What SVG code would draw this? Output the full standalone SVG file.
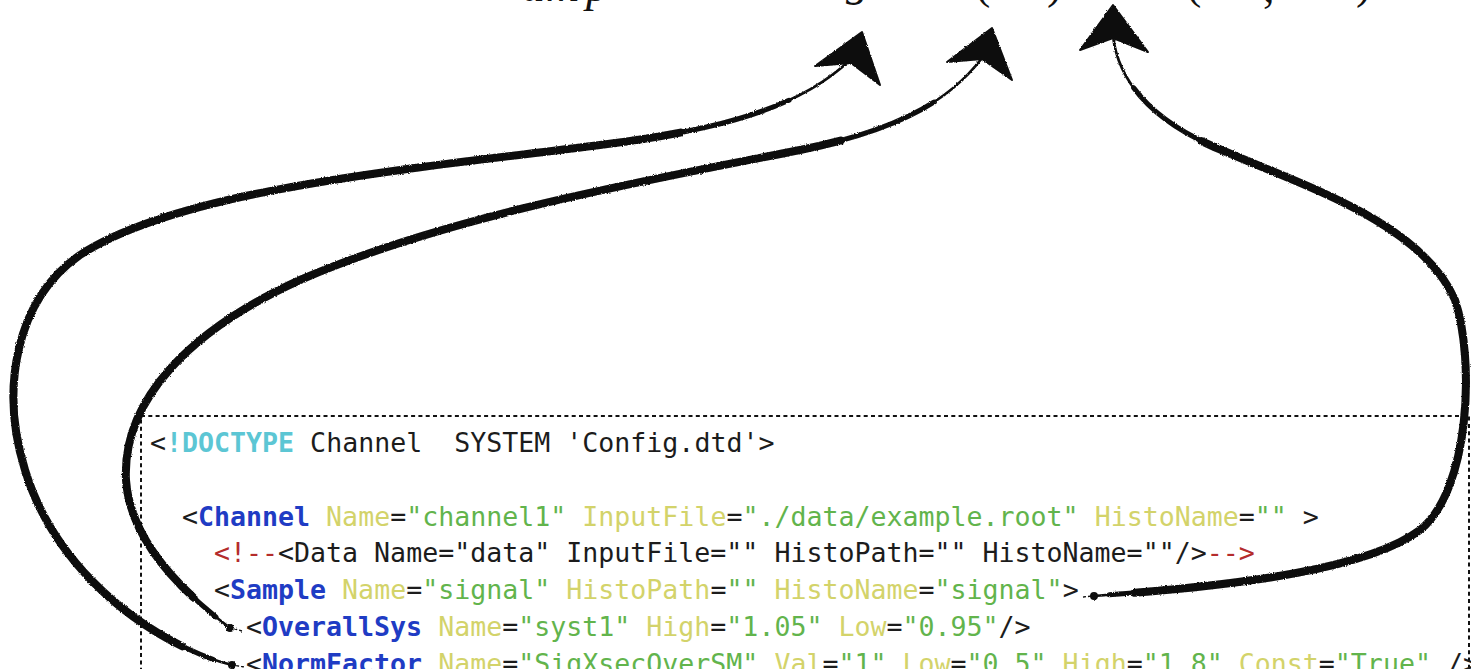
<svg xmlns="http://www.w3.org/2000/svg" width="1471" height="669" viewBox="0 0 1471 669">
  <style>
    .code { font-family: "DejaVu Sans Mono", "Liberation Mono", monospace; font-size: 26.6px; white-space: pre; }
    .k { fill: #1c1c1c; }
    .d { fill: #5cc6d4; font-weight: bold; }
    .e { fill: #1f3cc4; font-weight: bold; }
    .a { fill: #d3d36a; }
    .v { fill: #62b44c; }
    .c { fill: #b42c2c; }
    .math { font-family: "Liberation Serif", "DejaVu Serif", serif; fill: #111; }
    .box { fill: none; stroke: #111; stroke-width: 2; stroke-dasharray: 4 3.3; }
    .brush { fill: none; stroke: #0a0a0a; stroke-linecap: round; stroke-linejoin: round; }
    .w1 { stroke-width: 2.6; }
    .w2 { stroke-width: 5; stroke-dasharray: 0 1.5 93 200; }
    .w3 { stroke-width: 8; stroke-dasharray: 0 4 82 200; }
    .tail { fill: none; stroke: #0a0a0a; stroke-width: 1.3; stroke-dasharray: 3 2; }
    .head { fill: #0a0a0a; stroke: #0a0a0a; stroke-width: 2; stroke-linejoin: round; }
  </style>
  <defs>
    <filter id="rough" x="-5%" y="-5%" width="110%" height="110%">
      <feTurbulence type="fractalNoise" baseFrequency="0.9" numOctaves="2" seed="3" result="n"/>
      <feDisplacementMap in="SourceGraphic" in2="n" scale="2.5" xChannelSelector="R" yChannelSelector="G"/>
    </filter>
  </defs>
  <rect width="1471" height="669" fill="#ffffff"/>

  <!-- formula line, mostly above the top edge -->
  <g id="formula" class="math">
    <text x="522" y="1" font-size="46" font-style="italic">a</text>
    <text x="546" y="1" font-size="46" font-style="italic">m</text>
    <text x="586" y="1" font-size="46" font-style="italic">p</text>
    <text x="846" y="-5" font-size="46" font-style="italic">g</text>
    <text x="975" y="-2" font-size="46">(</text>
    <text x="1047" y="-2" font-size="46">)</text>
    <text x="1186" y="-2" font-size="46">(</text>
    <text x="1263" y="2" font-size="46">,</text>
    <text x="1356" y="-2" font-size="46">)</text>
  </g>

  <!-- configuration listing -->
  <g id="config">
    <rect class="box" x="141" y="416" width="1328" height="300"/>
    <text class="code" x="150" y="452"><tspan class="k">&lt;</tspan><tspan class="d">!DOCTYPE</tspan><tspan class="k"> Channel  SYSTEM 'Config.dtd'&gt;</tspan></text>
    <text class="code" x="182" y="526"><tspan class="k">&lt;</tspan><tspan class="e">Channel</tspan><tspan class="a"> Name</tspan><tspan class="k">=</tspan><tspan class="v">"channel1"</tspan><tspan class="a"> InputFile</tspan><tspan class="k">=</tspan><tspan class="v">"./data/example.root"</tspan><tspan class="a"> HistoName</tspan><tspan class="k">=</tspan><tspan class="v">""</tspan><tspan class="k"> &gt;</tspan></text>
    <text class="code" x="214" y="562"><tspan class="c">&lt;!--</tspan><tspan class="k">&lt;Data Name="data" InputFile="" HistoPath="" HistoName=""/&gt;</tspan><tspan class="c">--&gt;</tspan></text>
    <text class="code" x="214" y="599"><tspan class="k">&lt;</tspan><tspan class="e">Sample</tspan><tspan class="a"> Name</tspan><tspan class="k">=</tspan><tspan class="v">"signal"</tspan><tspan class="a"> HistoPath</tspan><tspan class="k">=</tspan><tspan class="v">""</tspan><tspan class="a"> HistoName</tspan><tspan class="k">=</tspan><tspan class="v">"signal"</tspan><tspan class="k">&gt;</tspan></text>
    <text class="code" x="246" y="636"><tspan class="k">&lt;</tspan><tspan class="e">OverallSys</tspan><tspan class="a"> Name</tspan><tspan class="k">=</tspan><tspan class="v">"syst1"</tspan><tspan class="a"> High</tspan><tspan class="k">=</tspan><tspan class="v">"1.05"</tspan><tspan class="a"> Low</tspan><tspan class="k">=</tspan><tspan class="v">"0.95"</tspan><tspan class="k">/&gt;</tspan></text>
    <text class="code" x="246" y="673"><tspan class="k">&lt;</tspan><tspan class="e">NormFactor</tspan><tspan class="a"> Name</tspan><tspan class="k">=</tspan><tspan class="v">"SigXsecOverSM"</tspan><tspan class="a"> Val</tspan><tspan class="k">=</tspan><tspan class="v">"1"</tspan><tspan class="a"> Low</tspan><tspan class="k">=</tspan><tspan class="v">"0.5"</tspan><tspan class="a"> High</tspan><tspan class="k">=</tspan><tspan class="v">"1.8"</tspan><tspan class="a"> Const</tspan><tspan class="k">=</tspan><tspan class="v">"True"</tspan><tspan class="k"> /&gt;</tspan></text>
  </g>

  <!-- brush-stroke connectors from the listing up to the formula -->
  <g id="connectors" filter="url(#rough)">
    <g id="link-normfactor">
      <path class="brush w1" pathLength="100" d="M232,665 C170,650 60,585 25,470 C0,390 15,300 80,255 C180,190 400,170 600,145 C720,130 800,108 850,60"/>
      <path class="brush w2" pathLength="100" d="M232,665 C170,650 60,585 25,470 C0,390 15,300 80,255 C180,190 400,170 600,145 C720,130 800,108 850,60"/>
      <path class="brush w3" pathLength="100" d="M232,665 C170,650 60,585 25,470 C0,390 15,300 80,255 C180,190 400,170 600,145 C720,130 800,108 850,60"/>
      <path class="tail" d="M244,667 L233,665"/>
      <path class="head" d="M862,32 L880,85 L851,63 L815,66 Z"/>
    </g>
    <g id="link-overallsys">
      <path class="brush w1" pathLength="100" d="M230,628 C180,590 130,540 126,480 C122,400 190,330 300,280 C450,215 650,180 800,150 C900,130 950,100 982,58"/>
      <path class="brush w2" pathLength="100" d="M230,628 C180,590 130,540 126,480 C122,400 190,330 300,280 C450,215 650,180 800,150 C900,130 950,100 982,58"/>
      <path class="brush w3" pathLength="100" d="M230,628 C180,590 130,540 126,480 C122,400 190,330 300,280 C450,215 650,180 800,150 C900,130 950,100 982,58"/>
      <path class="tail" d="M242,631 L231,628"/>
      <path class="head" d="M992,28 L1012,80 L982,59 L947,62 Z"/>
    </g>
    <g id="link-sample">
      <path class="brush w1" pathLength="100" d="M1094,596 C1200,588 1360,575 1420,530 C1470,490 1475,360 1455,300 C1420,220 1300,185 1210,145 C1150,118 1118,80 1113,36"/>
      <path class="brush w2" pathLength="100" d="M1094,596 C1200,588 1360,575 1420,530 C1470,490 1475,360 1455,300 C1420,220 1300,185 1210,145 C1150,118 1118,80 1113,36"/>
      <path class="brush w3" pathLength="100" d="M1094,596 C1200,588 1360,575 1420,530 C1470,490 1475,360 1455,300 C1420,220 1300,185 1210,145 C1150,118 1118,80 1113,36"/>
      <path class="tail" d="M1083,597 L1093,596"/>
      <path class="head" d="M1113,5 L1148,52 L1113,38 L1080,50 Z"/>
    </g>
  </g>
</svg>
